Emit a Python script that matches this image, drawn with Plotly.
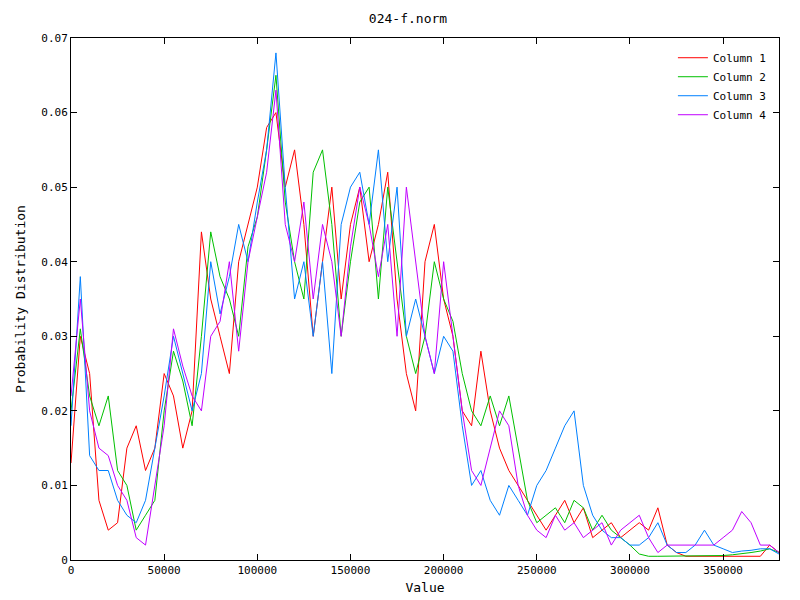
import plotly.graph_objects as go

x = [i * 5000 for i in range(77)]

col1 = [0.013, 0.030, 0.025, 0.008, 0.004, 0.005, 0.015, 0.018, 0.012, 0.015,
        0.025, 0.022, 0.015, 0.020, 0.044, 0.035, 0.030, 0.025, 0.040, 0.045,
        0.050, 0.058, 0.060, 0.050, 0.055, 0.045, 0.030, 0.040, 0.050, 0.035,
        0.045, 0.050, 0.040, 0.045, 0.052, 0.035, 0.025, 0.020, 0.040, 0.045,
        0.035, 0.030, 0.020, 0.018, 0.028, 0.020, 0.015, 0.012, 0.010, 0.008,
        0.006, 0.004, 0.006, 0.008, 0.005, 0.007, 0.003, 0.004, 0.005, 0.003,
        0.004, 0.005, 0.004, 0.007, 0.002, 0.001, 0.0005, 0.0005, 0.0005, 0.0005,
        0.0005, 0.0005, 0.0005, 0.0005, 0.0005, 0.002, 0.001]
col2 = [0.020, 0.031, 0.022, 0.018, 0.022, 0.012, 0.010, 0.004, 0.006, 0.008,
        0.020, 0.028, 0.024, 0.018, 0.030, 0.044, 0.038, 0.035, 0.030, 0.042,
        0.046, 0.055, 0.065, 0.048, 0.040, 0.035, 0.052, 0.055, 0.045, 0.030,
        0.040, 0.048, 0.050, 0.035, 0.050, 0.040, 0.030, 0.025, 0.030, 0.040,
        0.035, 0.032, 0.025, 0.020, 0.018, 0.022, 0.018, 0.022, 0.015, 0.008,
        0.005, 0.006, 0.007, 0.005, 0.008, 0.007, 0.004, 0.006, 0.004, 0.003,
        0.002, 0.0008, 0.0005, 0.0005, 0.0005, 0.0005, 0.0005, 0.0005, 0.0006, 0.0006,
        0.0006, 0.0007, 0.0008, 0.001, 0.0012, 0.0015, 0.001]
col3 = [0.018, 0.038, 0.014, 0.012, 0.012, 0.008, 0.006, 0.005, 0.008, 0.015,
        0.022, 0.030, 0.025, 0.020, 0.025, 0.040, 0.033, 0.038, 0.045, 0.040,
        0.048, 0.055, 0.068, 0.050, 0.035, 0.040, 0.030, 0.040, 0.025, 0.045,
        0.050, 0.052, 0.045, 0.055, 0.040, 0.050, 0.030, 0.035, 0.030, 0.025,
        0.030, 0.028, 0.018, 0.010, 0.012, 0.008, 0.006, 0.010, 0.008, 0.006,
        0.010, 0.012, 0.015, 0.018, 0.020, 0.010, 0.006, 0.004, 0.003, 0.003,
        0.002, 0.002, 0.003, 0.005, 0.002, 0.001, 0.001, 0.002, 0.004, 0.002,
        0.0015, 0.001, 0.0012, 0.0013, 0.0015, 0.0015, 0.0008]
col4 = [0.022, 0.035, 0.020, 0.015, 0.014, 0.010, 0.008, 0.003, 0.002, 0.010,
        0.018, 0.031, 0.026, 0.022, 0.020, 0.030, 0.032, 0.040, 0.028, 0.040,
        0.046, 0.052, 0.063, 0.045, 0.040, 0.048, 0.035, 0.045, 0.040, 0.030,
        0.042, 0.050, 0.045, 0.038, 0.045, 0.030, 0.050, 0.040, 0.030, 0.025,
        0.040, 0.030, 0.020, 0.012, 0.010, 0.015, 0.020, 0.018, 0.010, 0.006,
        0.004, 0.003, 0.006, 0.004, 0.005, 0.003, 0.004, 0.005, 0.002, 0.004,
        0.005, 0.006, 0.003, 0.001, 0.002, 0.002, 0.002, 0.002, 0.002, 0.002,
        0.003, 0.004, 0.0065, 0.005, 0.002, 0.002, 0.001]

names = ["Column 1", "Column 2", "Column 3", "Column 4"]
colors = ["#ff0000", "#00c000", "#0080ff", "#c000ff"]

fig = go.Figure()
for name, ys, c in zip(names, [col1, col2, col3, col4], colors):
    fig.add_trace(go.Scatter(x=x, y=ys, mode="lines", name=name,
                             line=dict(color=c, width=1)))

axis = dict(showgrid=False, showline=True, linecolor="black", mirror="ticks",
            ticks="inside", ticklen=6, tickcolor="black", zeroline=False,
            automargin=False)
fig.update_layout(
    width=800, height=600, plot_bgcolor="white", paper_bgcolor="white",
    font=dict(family="DejaVu Sans Mono", size=11, color="black"),
    title=dict(text="024-f.norm", x=0.5, xanchor="center", y=0.983,
               yanchor="middle", font=dict(size=13)),
    margin=dict(l=63, r=29, t=30, b=48),
    legend=dict(x=0.99, y=0.99, xanchor="right", yanchor="top",
                bgcolor="rgba(0,0,0,0)", font=dict(size=11)),
)
fig.update_xaxes(axis, range=[0, 380000], dtick=50000, tickformat="d",
                 title=dict(text="Value", standoff=6))
fig.update_yaxes(axis, range=[0, 0.07], dtick=0.01,
                 title=dict(text="Probability Distribution", standoff=12))
fig.write_html("out.html")
